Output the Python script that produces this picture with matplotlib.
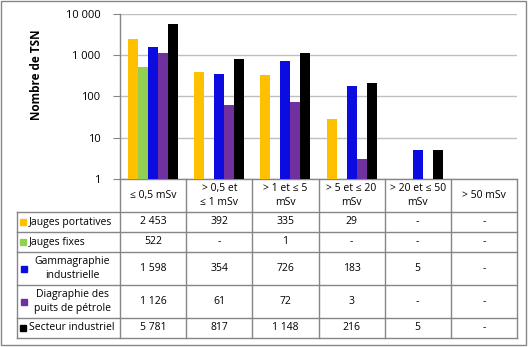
import numpy as np
import matplotlib
matplotlib.use("Agg")
import matplotlib.pyplot as plt
from matplotlib.lines import Line2D
from matplotlib.patches import Rectangle

plt.rcParams['font.family'] = ['Open Sans', 'DejaVu Sans']

categories = ["≤ 0,5 mSv", "> 0,5 et\n≤ 1 mSv", "> 1 et ≤ 5\nmSv",
              "> 5 et ≤ 20\nmSv", "> 20 et ≤ 50\nmSv", "> 50 mSv"]
series_names = ["Jauges portatives", "Jauges fixes", "Gammagraphie\nindustrielle",
                "Diagraphie des\npuits de pétrole", "Secteur industriel"]
jauges_portatives = [2453, 392, 335, 29, None, None]
jauges_fixes = [522, None, 1, None, None, None]
gammagraphie = [1598, 354, 726, 183, 5, None]
diagraphie = [1126, 61, 72, 3, None, None]
secteur_industriel = [5781, 817, 1148, 216, 5, None]
series_values = [jauges_portatives, jauges_fixes, gammagraphie, diagraphie, secteur_industriel]
colors = ["#FFC000", "#92D050", "#0C0CE0", "#7030A0", "#000000"]
ytick_values = [1, 10, 100, 1000, 10000]
ytick_labels = ["1", "10", "100", "1 000", "10 000"]

W, H = 528, 347
fig = plt.figure(figsize=(W / 100, H / 100), dpi=100)

def fx(x):
    return x / W

def fy(y):
    return 1 - y / H

gray = "#868686"
grid = "#BFBFBF"
fs = 7.5

# plot area
left, right, top, bottom = 120, 517, 14, 179
ax = fig.add_axes([fx(left), fy(bottom), (right - left) / W, (bottom - top) / H])
n_cat = len(categories)
x = np.arange(n_cat)
bw = 0.151
for k, (vals, c) in enumerate(zip(series_values, colors)):
    heights = [v if v is not None else np.nan for v in vals]
    ax.bar(x + (k - 2) * bw, heights, width=bw, color=c, zorder=3)

ax.set_yscale('log')
ax.set_ylim(1, 10000)
ax.set_xlim(-0.5, n_cat - 0.5)
ax.set_yticks(ytick_values)
ax.set_yticklabels(ytick_labels, fontsize=fs + 0.5)
ax.yaxis.set_minor_locator(matplotlib.ticker.NullLocator())
ax.set_xticks([])
ax.tick_params(axis='y', direction='out', length=5, color=gray, pad=9)
ax.grid(axis='y', color=grid, linewidth=1, zorder=0)
for s in ['top', 'right']:
    ax.spines[s].set_visible(False)
for s in ['left', 'bottom']:
    ax.spines[s].set_color(gray)
    ax.spines[s].set_linewidth(1)
ax.set_ylabel("Nombre de TSN", fontsize=8.5, fontweight='bold')
ax.yaxis.set_label_coords((43 - left) / (right - left), (bottom - 75) / (bottom - top))

# data table
col_x = [left + i * (right - left) / n_cat for i in range(n_cat + 1)]
row_y = [179, 212, 232, 252, 285, 318, 338]
tleft = 17

def hline(y, x0, x1):
    fig.add_artist(Line2D([fx(x0), fx(x1)], [fy(y), fy(y)], color=gray, lw=1))

def vline(xp, y0, y1):
    fig.add_artist(Line2D([fx(xp), fx(xp)], [fy(y0), fy(y1)], color=gray, lw=1))

for y in row_y[1:]:
    hline(y, tleft, right)
for xp in col_x:
    vline(xp, row_y[0], row_y[-1])
vline(tleft, row_y[1], row_y[-1])

for i, cat in enumerate(categories):
    cx = (col_x[i] + col_x[i + 1]) / 2
    cy = (row_y[0] + row_y[1]) / 2
    fig.text(fx(cx), fy(cy), cat, ha='center', va='center', fontsize=fs, linespacing=1.45)

def fmt(v):
    if v is None:
        return "-"
    return f"{v:,}".replace(",", " ")

for r, (name, vals, c) in enumerate(zip(series_names, series_values, colors)):
    cy = (row_y[r + 1] + row_y[r + 2]) / 2
    if "\n" in name:
        fig.add_artist(Rectangle((fx(21), fy(cy + 3)), 6 / W, 6 / H, color=c,
                                 transform=fig.transFigure))
        fig.text(fx(72), fy(cy), name, ha='center', va='center', fontsize=fs, linespacing=1.45)
    else:
        fig.add_artist(Rectangle((fx(20), fy(cy + 3)), 6 / W, 6 / H, color=c,
                                 transform=fig.transFigure))
        fig.text(fx(29), fy(cy), name, ha='left', va='center', fontsize=fs)
    for i, v in enumerate(vals):
        cx = (col_x[i] + col_x[i + 1]) / 2
        fig.text(fx(cx), fy(cy), fmt(v), ha='center', va='center', fontsize=fs)

# outer frame
fig.add_artist(Rectangle((fx(1), fy(345)), 525 / W, 344 / H, fill=False,
                         edgecolor=gray, lw=1, transform=fig.transFigure))

fig.savefig("out.png", dpi=100)
